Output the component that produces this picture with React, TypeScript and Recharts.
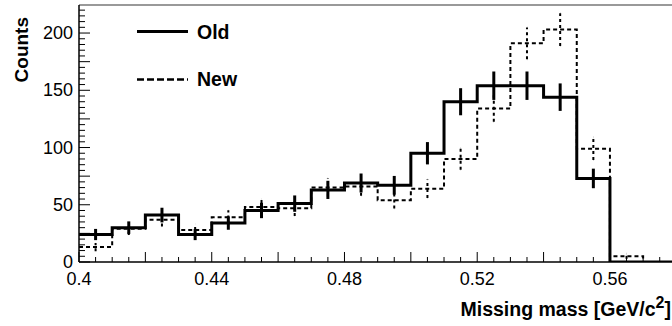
import React from 'react';
import { ComposedChart, Line, Scatter, ErrorBar, XAxis, YAxis, ReferenceLine } from 'recharts';

const binEdges = [0.4, 0.41, 0.42, 0.43, 0.44, 0.45, 0.46, 0.47, 0.48, 0.49, 0.5, 0.51, 0.52, 0.53, 0.54, 0.55, 0.56, 0.57, 0.58];
const oldCounts = [24, 30, 41, 24, 34, 45, 51, 63, 69, 67, 95, 140, 154, 154, 144, 73, 0, 0];
const newCounts = [13, 29, 37, 28, 39, 48, 47, 65, 66, 54, 64, 90, 134, 191, 203, 99, 5, 0];

const xTickValues = [0.4, 0.405, 0.41, 0.415, 0.42, 0.425, 0.43, 0.435, 0.44, 0.445, 0.45, 0.455, 0.46, 0.465, 0.47, 0.475, 0.48, 0.485, 0.49, 0.495, 0.5, 0.505, 0.51, 0.515, 0.52, 0.525, 0.53, 0.535, 0.54, 0.545, 0.55, 0.555, 0.56, 0.565, 0.57, 0.575];
const xLabelValues = [0.4, 0.44, 0.48, 0.52, 0.56];
const yTickValues = [0, 5, 10, 15, 20, 25, 30, 35, 40, 45, 50, 55, 60, 65, 70, 75, 80, 85, 90, 95, 100, 105, 110, 115, 120, 125, 130, 135, 140, 145, 150, 155, 160, 165, 170, 175, 180, 185, 190, 195, 200, 205, 210, 215, 220];
const yLabelValues = [0, 50, 100, 150, 200];
const seriesNames = ['Old', 'New'];
const xTitle = 'Missing mass [GeV/c';
const xTitleSup = '2';
const xTitleEnd = ']';
const yTitle = 'Counts';

const X_DOMAIN: [number, number] = [0.4, 0.5787];
const Y_DOMAIN: [number, number] = [0, 224.5];
const FONT = '"Liberation Sans", Arial, Helvetica, sans-serif';

const stepData = (counts: number[]) =>
  binEdges.map((e, i) => ({ x: e, y: counts[Math.min(i, counts.length - 1)] }));

const errData = (counts: number[]) =>
  counts
    .map((c, i) => ({ x: (binEdges[i] + binEdges[i + 1]) / 2, y: c, err: Math.sqrt(c) }))
    .filter((d) => d.y > 0);

const XTick = (props: any) => {
  const { x, y, payload } = props;
  const v = payload.value as number;
  const k = Math.round(v * 1000);
  const long = k % 20 === 0;
  const label = xLabelValues.find((l) => Math.abs(l - v) < 1e-9);
  return (
    <g>
      <line x1={x} x2={x} y1={y} y2={y - (long ? 10 : 5)} stroke="#000" strokeWidth={1} />
      {label !== undefined && (
        <text x={x} y={y + 23} textAnchor="middle" fontSize={18} fontFamily={FONT} fill="#000">
          {String(label)}
        </text>
      )}
    </g>
  );
};

const YTick = (props: any) => {
  const { x, y, payload } = props;
  const v = payload.value as number;
  const long = v % 25 === 0;
  const label = yLabelValues.find((l) => l === v);
  return (
    <g>
      <line x1={x} x2={x + (long ? 11 : 6)} y1={y} y2={y} stroke="#000" strokeWidth={1} />
      {label !== undefined && (
        <text x={x - 6} y={y + 6} textAnchor="end" fontSize={18} fontFamily={FONT} fill="#000">
          {String(label)}
        </text>
      )}
    </g>
  );
};

export default function App() {
  return (
    <div style={{ position: 'absolute', left: 0, top: 0, width: 672, height: 326, background: '#fff' }}>
      <ComposedChart width={672} height={326} margin={{ top: 5, right: 0, left: 0, bottom: 0 }}>
        <XAxis
          dataKey="x"
          type="number"
          domain={X_DOMAIN}
          allowDataOverflow
          ticks={xTickValues}
          interval={0}
          tick={<XTick />}
          tickLine={false}
          tickSize={0}
          tickMargin={0}
          height={64}
          axisLine={{ stroke: '#000', strokeWidth: 1.5 }}
        />
        <YAxis
          type="number"
          domain={Y_DOMAIN}
          allowDataOverflow
          ticks={yTickValues}
          interval={0}
          tick={<YTick />}
          tickLine={false}
          tickSize={0}
          tickMargin={0}
          width={79}
          axisLine={{ stroke: '#000', strokeWidth: 1.5 }}
        />
        <ReferenceLine y={Y_DOMAIN[1]} stroke="#777" strokeWidth={1.5} ifOverflow="visible" />
        <Line
          data={stepData(newCounts)}
          dataKey="y"
          type="stepAfter"
          stroke="#000"
          strokeWidth={2}
          strokeDasharray="4 3"
          dot={false}
          isAnimationActive={false}
        />
        <Line
          data={stepData(oldCounts)}
          dataKey="y"
          type="stepAfter"
          stroke="#000"
          strokeWidth={3}
          dot={false}
          isAnimationActive={false}
        />
        <Scatter data={errData(newCounts)} dataKey="y" shape={() => <g />} isAnimationActive={false}>
          <ErrorBar dataKey="err" direction="y" width={0} stroke="#000" strokeWidth={2} strokeDasharray="3 3" isAnimationActive={false} />
        </Scatter>
        <Scatter data={errData(oldCounts)} dataKey="y" shape={() => <g />} isAnimationActive={false}>
          <ErrorBar dataKey="err" direction="y" width={0} stroke="#000" strokeWidth={3} isAnimationActive={false} />
        </Scatter>
      </ComposedChart>
      <svg width={672} height={326} style={{ position: 'absolute', left: 0, top: 0, pointerEvents: 'none' }}>
        <line x1={137} x2={188} y1={31.5} y2={31.5} stroke="#000" strokeWidth={3} />
        <text x={197} y={39} fontSize={19.5} fontWeight="bold" fontFamily={FONT} fill="#000">
          {seriesNames[0]}
        </text>
        <line x1={137} x2={188} y1={79.5} y2={79.5} stroke="#000" strokeWidth={2.5} strokeDasharray="7 3" />
        <text x={197} y={86} fontSize={19.5} fontWeight="bold" fontFamily={FONT} fill="#000">
          {seriesNames[1]}
        </text>
        <text
          x={28}
          y={17}
          textAnchor="end"
          transform="rotate(-90, 28, 17)"
          fontSize={19}
          fontWeight="bold"
          fontFamily={FONT}
          fill="#000"
        >
          {yTitle}
        </text>
        <text x={671} y={316} textAnchor="end" fontSize={19.5} fontWeight="bold" fontFamily={FONT} fill="#000">
          {xTitle}
          <tspan fontSize={16} dy={-8}>{xTitleSup}</tspan>
          <tspan dy={8}>{xTitleEnd}</tspan>
        </text>
      </svg>
    </div>
  );
}
